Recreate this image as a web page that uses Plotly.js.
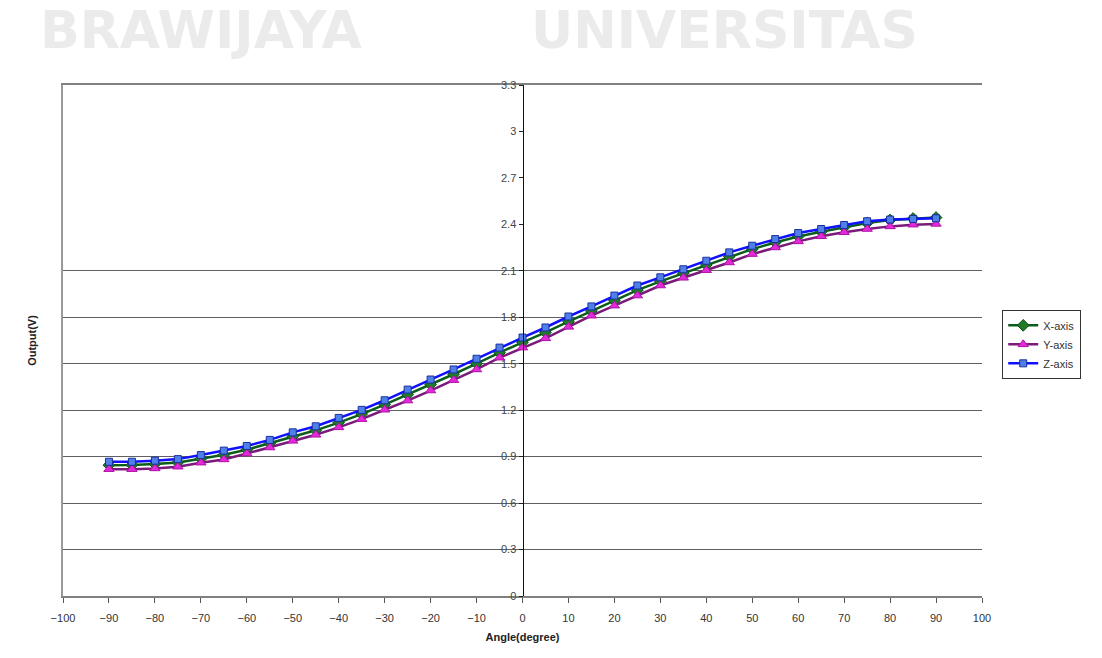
<!DOCTYPE html>
<html>
<head>
<meta charset="utf-8">
<script src="https://cdn.plot.ly/plotly-3.0.1.min.js"></script>
<style>html,body{margin:0;padding:0;background:#fff;}#chart{width:1102px;height:658px;}</style>
</head>
<body>
<div id="chart"></div>
<script>
// Angles (degree)
var angles = [-90,-85,-80,-75,-70,-65,-60,-55,-50,-45,-40,-35,-30,-25,-20,-15,-10,-5,0,5,10,15,20,25,30,35,40,45,50,55,60,65,70,75,80,85,90];
// Output (V) per sensor axis
var xAxisOut = [0.845,0.846,0.852,0.862,0.886,0.912,0.945,0.985,1.030,1.070,1.120,1.175,1.236,1.300,1.366,1.432,1.500,1.572,1.638,1.702,1.772,1.840,1.908,1.975,2.032,2.085,2.138,2.192,2.240,2.283,2.322,2.352,2.381,2.408,2.428,2.438,2.444];
var yAxisOut = [0.819,0.819,0.824,0.835,0.861,0.882,0.920,0.959,1.002,1.041,1.089,1.142,1.203,1.262,1.327,1.394,1.463,1.539,1.604,1.664,1.738,1.810,1.875,1.940,2.005,2.055,2.104,2.154,2.208,2.251,2.290,2.323,2.349,2.370,2.387,2.398,2.403];
var zAxisOut = [0.867,0.867,0.874,0.884,0.910,0.939,0.969,1.008,1.057,1.096,1.150,1.202,1.264,1.333,1.398,1.463,1.532,1.604,1.669,1.734,1.805,1.870,1.940,2.005,2.058,2.110,2.165,2.219,2.262,2.305,2.344,2.370,2.396,2.420,2.431,2.435,2.439];
var seriesNames = ['X-axis','Y-axis','Z-axis'];
var gridVals = [0.3,0.6,0.9,1.2,1.5,1.8,2.1];
var watermarkWords = ['BRAWIJAYA', 'UNIVERSITAS'];

var FONT = 'Liberation Sans, Arial, sans-serif';
var WM_FONT = {family: 'DejaVu Sans, sans-serif', size: 52, color: '#ebebeb', weight: 'bold'};

var traces = [
  {x: angles, y: xAxisOut, name: seriesNames[0], mode: 'lines+markers', type: 'scatter',
   line: {color: '#0b5e1a', width: 2.5},
   marker: {symbol: 'diamond', size: 9, color: '#1f7a2a', line: {color: '#0b4d14', width: 1}}},
  {x: angles, y: yAxisOut, name: seriesNames[1], mode: 'lines+markers', type: 'scatter',
   line: {color: '#7a1a7a', width: 2.5},
   marker: {symbol: 'triangle-up', size: 9, color: '#e22ad8', line: {color: '#b010a8', width: 1}}},
  {x: angles, y: zAxisOut, name: seriesNames[2], mode: 'lines+markers', type: 'scatter',
   line: {color: '#1010ff', width: 2.5},
   marker: {symbol: 'square', size: 7, color: '#4f80e8', line: {color: '#1a2fa0', width: 1}}}
];

var layout = {
  width: 1102, height: 658,
  paper_bgcolor: '#ffffff', plot_bgcolor: '#ffffff',
  margin: {l: 63, r: 120, t: 85, b: 62},
  font: {family: FONT, size: 11, color: '#333'},
  showlegend: true,
  legend: {x: 1.022, y: 0.56, xanchor: 'left', yanchor: 'top',
    bordercolor: '#333', borderwidth: 1, bgcolor: '#fff',
    font: {family: FONT, size: 11, color: '#333'}, tracegroupgap: 0},
  xaxis: {
    range: [-100, 100], dtick: 10, tick0: -100,
    ticks: 'outside', ticklen: 5, tickcolor: '#555',
    ticklabelstandoff: 6,
    showline: true, linecolor: '#808080', linewidth: 2, mirror: true,
    showgrid: false, zeroline: false,
    tickfont: {family: FONT, size: 11, color: '#333'},
    title: {text: 'Angle(degree)', standoff: 10, font: {family: FONT, size: 11, color: '#222', weight: 'bold'}},
    automargin: false
  },
  yaxis: {
    range: [0, 3.3], dtick: 0.3, tick0: 0,
    anchor: 'free', position: 0.5,
    ticks: 'outside', ticklen: 4, tickcolor: '#222',
    showline: true, linecolor: '#111', linewidth: 1.2,
    showgrid: false, zeroline: false,
    tickfont: {family: FONT, size: 11, color: '#444'},
    automargin: false
  },
  yaxis2: {
    overlaying: 'y', side: 'left', anchor: 'x',
    range: [0, 3.3], tickvals: gridVals, showticklabels: false, ticks: '',
    showgrid: true, gridcolor: '#606060', gridwidth: 1,
    showline: true, linecolor: '#999', linewidth: 2, mirror: false,
    zeroline: false,
    title: {text: 'Output(V)', standoff: 22, font: {family: FONT, size: 11, color: '#222', weight: 'bold'}},
    automargin: false
  },
  annotations: [
    {text: watermarkWords[0], xref: 'paper', yref: 'paper', x: 0.15, y: 1.045, xanchor: 'center', yanchor: 'bottom',
     showarrow: false, font: WM_FONT},
    {text: watermarkWords[1], xref: 'paper', yref: 'paper', x: 0.72, y: 1.045, xanchor: 'center', yanchor: 'bottom',
     showarrow: false, font: WM_FONT}
  ]
};

// invisible trace to activate yaxis2 (gridlines + left frame)
traces.push({x: [angles[0]], y: [gridVals[0]], yaxis: 'y2', mode: 'markers', marker: {opacity: 0}, showlegend: false, hoverinfo: 'skip'});

Plotly.newPlot('chart', traces, layout, {displayModeBar: false, staticPlot: true});
</script>
</body>
</html>
